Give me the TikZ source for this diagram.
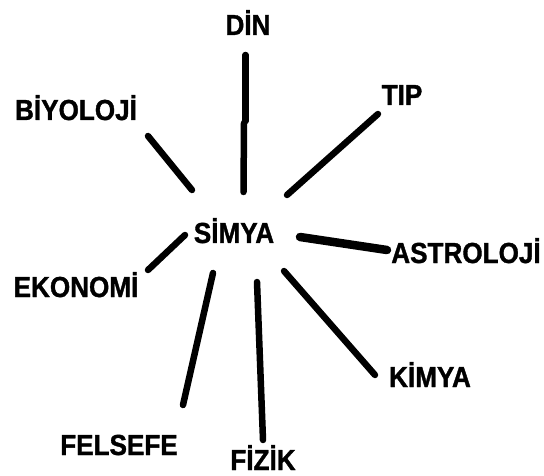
\documentclass[tikz,border=0pt]{standalone}
\usepackage{fontspec}
\newfontfamily\lblfont[FakeStretch=0.9,FakeBold=1.2]{Liberation Sans}
\tikzset{
  lbl/.style={font=\lblfont\bfseries\fontsize{29}{29}\selectfont, inner sep=0pt, anchor=base, text=black},
  stroke/.style={line width=6.5pt, line cap=round, draw=black}
}
\begin{document}
\begin{tikzpicture}[x=1pt,y=-1pt]
\useasboundingbox (0,0) rectangle (544,476);
\fill[white] (0,0) rectangle (544,476);
% labels
\node[lbl] (simya) at (234,243) {SİMYA};
\node[lbl] (din) at (248,35) {DİN};
\node[lbl] (biyoloji) at (76,120) {BİYOLOJİ};
\node[lbl] (tip) at (402,105) {TIP};
\node[lbl] (astroloji) at (466,263) {ASTROLOJİ};
\node[lbl] (ekonomi) at (76,297) {EKONOMİ};
\node[lbl] (kimya) at (430,387) {KİMYA};
\node[lbl] (felsefe) at (119,455) {FELSEFE};
\node[lbl] (fizik) at (263,470) {FİZİK};
% line end points
\coordinate (dinA) at (245.5,55);
\coordinate (dinB) at (245.5,121);
\coordinate (dinC) at (244,123);
\coordinate (dinD) at (243.5,192);
\coordinate (bioA) at (148,136);
\coordinate (bioB) at (192,190);
\coordinate (tipA) at (378,114);
\coordinate (tipB) at (287,195);
\coordinate (astA) at (300,237);
\coordinate (astB) at (387,250);
\coordinate (ekoA) at (185,235);
\coordinate (ekoB) at (148,270);
\coordinate (felA) at (213,273);
\coordinate (felB) at (183,405);
\coordinate (fizA) at (257,282);
\coordinate (fizB) at (263,440);
\coordinate (kimA) at (284,271);
\coordinate (kimB) at (375,375);
% connectors
\draw[stroke] (dinA) -- (dinB);
\draw[stroke] (dinC) -- (dinD);
\draw[stroke] (bioA) -- (bioB);
\draw[stroke] (tipA) -- (tipB);
\draw[stroke, line width=8.5pt] (astA) -- (astB);
\draw[stroke] (ekoA) -- (ekoB);
\draw[stroke] (felA) -- (felB);
\draw[stroke] (fizA) -- (fizB);
\draw[stroke] (kimA) -- (kimB);
\end{tikzpicture}
\end{document}
